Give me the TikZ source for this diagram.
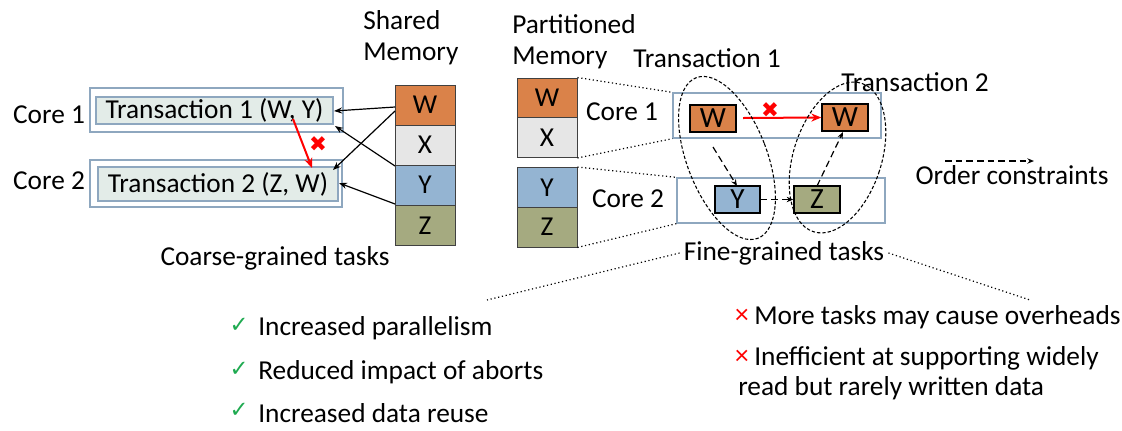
\documentclass[tikz,border=0pt]{standalone}
\usepackage{fontspec}
\setmainfont{Carlito}
\newfontfamily\symfont{DejaVu Sans}
\usetikzlibrary{arrows.meta,fit,calc}
\definecolor{cW}{RGB}{218,130,73}
\definecolor{cX}{RGB}{230,230,230}
\definecolor{cY}{RGB}{148,180,210}
\definecolor{cZ}{RGB}{165,170,128}
\definecolor{coreline}{RGB}{142,167,191}
\definecolor{txfill}{RGB}{227,236,232}
\definecolor{okgreen}{RGB}{30,170,80}
\begin{document}
\begin{tikzpicture}[x=0.75pt,y=-0.75pt,
  every node/.style={font=\fontsize{20.5pt}{24pt}\selectfont, inner sep=0pt},
  cell/.style={draw=black!75, line width=0.7pt, minimum width=45pt, minimum height=30pt},
  corebox/.style={draw=coreline, line width=1pt},
  txbox/.style={draw=coreline, fill=txfill, line width=1pt},
  taskbox/.style={draw=black, line width=1pt},
  big/.style={font=\fontsize{22pt}{24pt}\selectfont},
  link/.style={-{Stealth[length=6pt,width=4.5pt]}, line width=0.9pt},
  conflict/.style={-{Stealth[length=7.5pt,width=6pt]}, red, line width=1.5pt},
  order/.style={-{Stealth[length=5pt,width=4pt]}, dash pattern=on 5pt off 3pt, line width=0.9pt},
  grp/.style={dash pattern=on 2.5pt off 1.5pt, line width=0.8pt},
  dots/.style={dotted, line width=0.9pt},
  okmark/.style={text=okgreen, font=\symfont\fontsize{17pt}{17pt}\selectfont},
  badmark/.style={text=red, font=\symfont\fontsize{16pt}{16pt}\selectfont},
  lbl/.style={anchor=west}
]
\useasboundingbox (0,0) rectangle (1122,430);

% ---------- Left: shared memory ----------
\node[lbl] (shared) at (363,20) {Shared};
\node[lbl] (smem) at (363,54) {Memory};
\node[cell, fill=cW] (sW) at (425,105) {W};
\node[cell, fill=cX] (sX) at (425,145) {X};
\node[cell, fill=cY] (sY) at (425,185) {Y};
\node[cell, fill=cZ] (sZ) at (425,225.5) {Z};

\node[corebox, fit={(90,88)(343,132)}] (c1) {};
\node[txbox, fit={(96,97)(333,124)}] (t1) {};
\node at (t1.center) {Transaction 1 (W, Y)};
\node[corebox, fit={(90,160)(342,207)}] (c2) {};
\node[txbox, fit={(98,167)(338,201)}] (t2) {};
\node at (t2.center) {Transaction 2 (Z, W)};
\node (core1) at (49,115) {Core 1};
\node (core2) at (49,181) {Core 2};

\coordinate (wA) at (395,107);
\coordinate (wB) at (395,111);
\coordinate (yA) at (395,166);
\coordinate (yB) at (395,204);
\coordinate (t1e) at (334,111);
\coordinate (t1se) at (335,126);
\coordinate (t2ne) at (333,170);
\coordinate (t2e) at (339,183);
\draw[link] (wA) -- (t1e);
\draw[link] (wB) -- (t2ne);
\draw[link] (yA) -- (t1se);
\draw[link] (yB) -- (t2e);

\coordinate (r1) at (293,119);
\coordinate (r2) at (312,168);
\draw[conflict] (r1) -- (r2);
\node[badmark] (x1) at (318,144) {✖};

\node (coarse) at (275,258) {Coarse-grained tasks};

% ---------- Right: partitioned memory ----------
\node[lbl] (part) at (512,24) {Partitioned};
\node[lbl] (pmem) at (512,58) {Memory};
\node[cell, fill=cW] (pW) at (547,98) {W};
\node[cell, fill=cX] (pX) at (547,137.5) {X};
\node[cell, fill=cY] (pY) at (547,187.5) {Y};
\node[cell, fill=cZ] (pZ) at (547,227) {Z};

\node[corebox, fit={(673,93)(881,138)}] (rc1) {};
\node[corebox, fit={(677,178)(885,223)}] (rc2) {};
\node (rcore1) at (622,112) {Core 1};
\node (rcore2) at (628,199) {Core 2};

\node[taskbox, fill=cW, fit={(690,105)(736,132)}] (tw1) {};
\node[big] at (tw1.center) {W};
\node[taskbox, fill=cW, fit={(822,104)(868,131)}] (tw2) {};
\node[big] at (tw2.center) {W};
\node[taskbox, fill=cY, fit={(715,186)(760,213)}] (ty) {};
\node[big] at (ty.center) {Y};
\node[taskbox, fill=cZ, fit={(794,186)(840,213)}] (tz) {};
\node[big] at (tz.center) {Z};

\draw[dots] (pW.north east) -- (rc1.north west);
\draw[dots] (pX.south east) -- (rc1.south west);
\draw[dots] (pY.north east) -- (rc2.north west);
\draw[dots] (pZ.south east) -- (rc2.south west);

\coordinate (rr1) at (743,118);
\draw[conflict] (rr1) -- (tw2.west);
\node[badmark] (x2) at (770,110) {✖};

\coordinate (o1s) at (713,147);
\coordinate (o1e) at (737,186);
\draw[order] (o1s) -- (o1e);
\coordinate (o2s) at (817,186);
\coordinate (o2e) at (843,132);
\draw[order] (o2s) -- (o2e);
\draw[order] (ty.east) -- (tz.west);

\draw[grp] (727,158) ellipse [x radius=40, y radius=86, rotate=21];
\draw[grp] (837.5,157.5) ellipse [x radius=44, y radius=78, rotate=-18];

\node (tr1) at (707,58) {Transaction 1};
\node (tr2) at (915,82) {Transaction 2};

\coordinate (ocs) at (945,161);
\coordinate (oce) at (1034,161);
\draw[order] (ocs) -- (oce);
\node (oc) at (1012,175) {Order constraints};

\node (fine) at (784,253) {Fine-grained tasks};
\coordinate (fl) at (487,300);
\coordinate (fr) at (1030,300);
\draw[dots] ([xshift=-3pt]fine.west) -- (fl);
\draw[dots] ([xshift=3pt]fine.east) -- (fr);

% ---------- Bullets ----------
\node[okmark] (ck1) at (239,325) {✓};
\node[okmark] (ck2) at (239,369) {✓};
\node[okmark] (ck3) at (239,410) {✓};
\node[lbl] (b1) at (258,328) {Increased parallelism};
\node[lbl] (b2) at (258,372) {Reduced impact of aborts};
\node[lbl] (b3) at (258,413) {Increased data reuse};

\node[text=red] (xa) at (742,316) {×};
\node[text=red] (xb) at (742,357) {×};
\node[lbl] (n1) at (754,317) {More tasks may cause overheads};
\node[lbl] (n2) at (754,358) {Inefficient at supporting widely};
\node[lbl] (n3) at (738,388) {read but rarely written data};
\end{tikzpicture}
\end{document}
